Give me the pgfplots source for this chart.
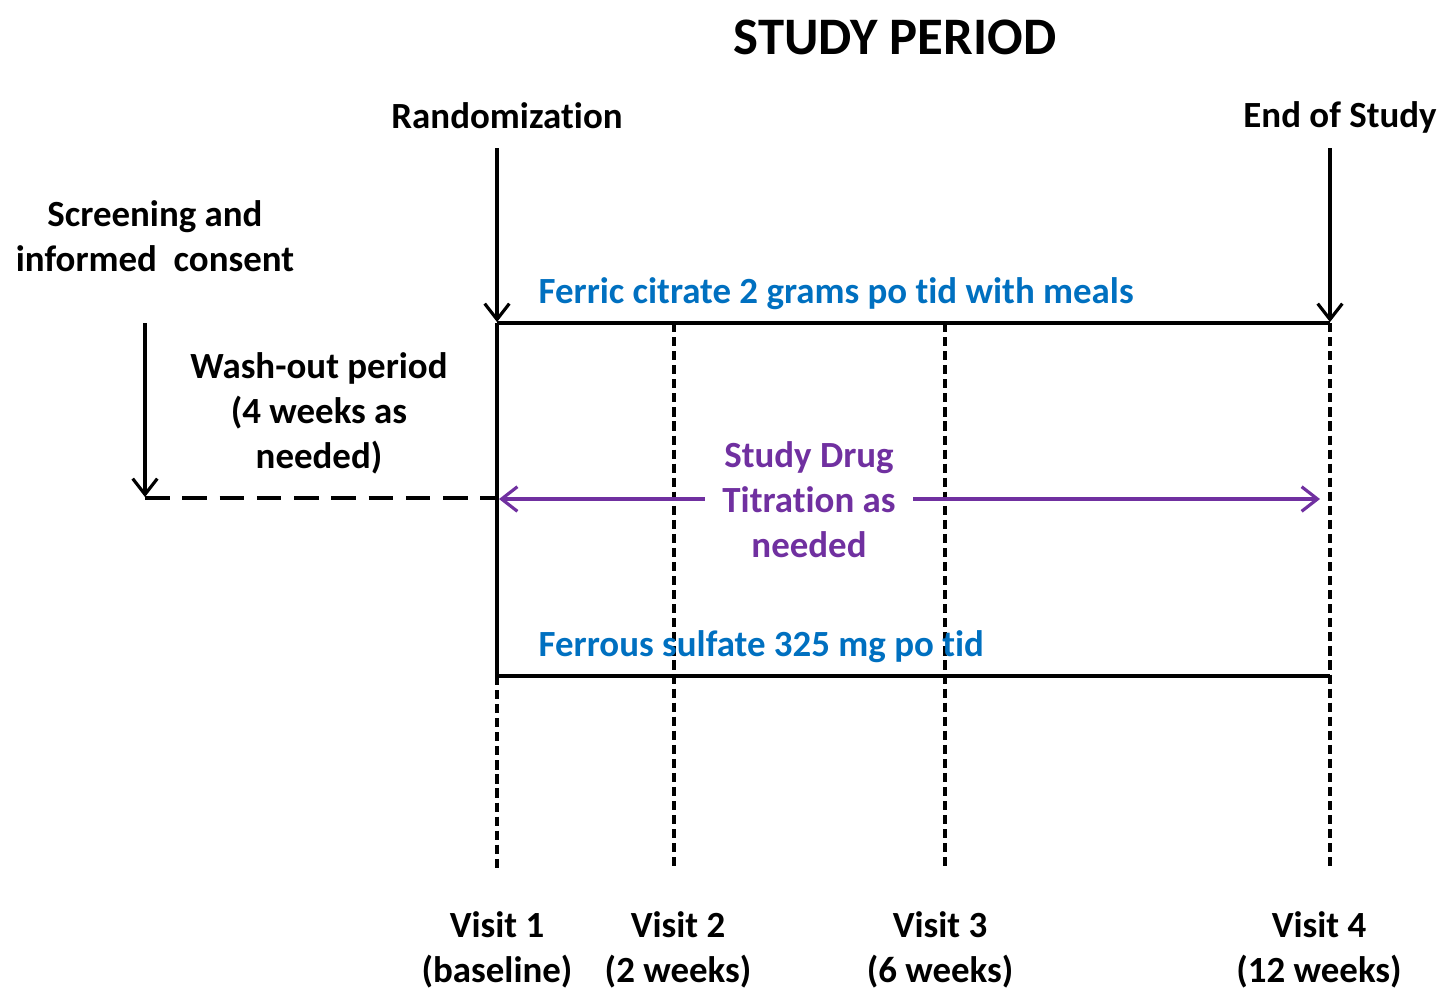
\documentclass[border=0pt]{standalone}
\usepackage{pgfplots}
\pgfplotsset{compat=1.18}
\usetikzlibrary{arrows.meta}
\usepackage{fontspec}
\setmainfont[RawFeature={-liga;-clig;-dlig;-calt}]{Carlito}
\definecolor{fblue}{HTML}{0070C0}
\definecolor{fpurple}{HTML}{7030A0}
\tikzset{lab/.style={font=\bfseries\fontsize{10.5}{12.8}\selectfont, align=center, inner sep=0pt}}
\begin{document}
\begin{tikzpicture}
\begin{axis}[
 scale only axis, width=14.41cm, height=9.9cm,
 xmin=0,xmax=1441,ymin=0,ymax=990, y dir=reverse,
 hide axis, clip=false]
% box
\addplot[black, line width=0.9pt] coordinates {(497,323)(1330,323)};
\addplot[black, line width=0.9pt] coordinates {(497,676)(1330,676)};
\addplot[black, line width=0.9pt] coordinates {(497,323)(497,676)};
% dashed visit lines
\addplot[black, line width=0.9pt, dash pattern=on 2.6pt off 1.4pt] coordinates {(497,676)(497,868)};
\addplot[black, line width=0.9pt, dash pattern=on 2.6pt off 1.4pt] coordinates {(674,323)(674,868)};
\addplot[black, line width=0.9pt, dash pattern=on 2.6pt off 1.4pt] coordinates {(945,323)(945,868)};
\addplot[black, line width=0.9pt, dash pattern=on 2.6pt off 1.4pt] coordinates {(1330,323)(1330,868)};
% arrows
\addplot[black, line width=0.9pt, -{Straight Barb[length=4.5pt,width=7pt]}] coordinates {(497,148)(497,322)};
\addplot[black, line width=0.9pt, -{Straight Barb[length=4.5pt,width=7pt]}] coordinates {(1330,148)(1330,322)};
\addplot[black, line width=0.9pt, -{Straight Barb[length=4.5pt,width=7pt]}] coordinates {(145,323)(145,497)};
\addplot[black, line width=1.2pt, dash pattern=on 7pt off 3.6pt] coordinates {(145,498)(497,498)};
\addplot[fpurple, line width=0.9pt, {Straight Barb[length=4.5pt,width=7pt]}-] coordinates {(499,499)(705,499)};
\addplot[fpurple, line width=0.9pt, -{Straight Barb[length=4.5pt,width=7pt]}] coordinates {(913,499)(1320,499)};
% texts
\node[lab] at (895,37) {\fontsize{15}{18}\selectfont STUDY PERIOD};
\node[lab] at (507,116) {Randomization};
\node[lab] at (1340,117) {End of Study};
\node[lab] at (155,236) {Screening and\\informed\ \ consent};
\node[lab] at (319,413) {Wash-out period\\(4 weeks as\\needed)};
\node[lab, text=fpurple] at (809,500) {Study Drug\\Titration as\\needed};
\node[lab, text=fblue, anchor=west] at (538,294) {Ferric citrate 2 grams po tid with meals};
\node[lab, text=fblue, anchor=west] at (538,647) {Ferrous sulfate 325 mg po tid};
\node[lab] at (497,950) {Visit 1\\(baseline)};
\node[lab] at (678,950) {Visit 2\\(2 weeks)};
\node[lab] at (940,950) {Visit 3\\(6 weeks)};
\node[lab] at (1319,950) {Visit 4\\(12 weeks)};
\end{axis}
\pgfresetboundingbox
\path (0,0) rectangle (14.41cm,9.9cm);
\end{tikzpicture}
\end{document}
